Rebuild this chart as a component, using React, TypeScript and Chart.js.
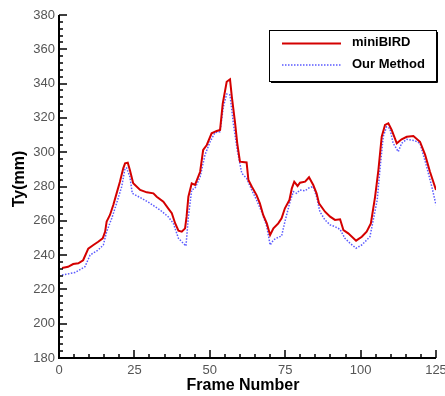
import React, { useEffect, useRef } from "react";
import { Chart, registerables } from "chart.js";

Chart.register(...registerables);

// ---- data ----
const seriesLabels = ["miniBIRD", "Our Method"];

const redFrames = [1, 3, 4.7, 6.4, 8, 9.7, 11.4, 13, 14.5, 15.3, 15.8, 16.9, 18, 19.1, 20.2, 21.3, 21.9, 22.8, 23.5, 24.6, 26.9, 29.1, 31.3, 32.4, 34.6, 36.2, 37.4, 38.5, 39.6, 40.7, 41.8, 42.3, 42.9, 44, 45.1, 46.8, 47.8, 49, 50.6, 52.3, 53.4, 54.3, 55.6, 56.7, 57.3, 58.4, 59.1, 60, 62.2, 62.8, 63.9, 65.5, 66.6, 67.7, 68.9, 70, 71.1, 72.7, 73.8, 74.9, 76.4, 77.2, 78, 79.1, 79.9, 81.6, 82.9, 84.3, 85.4, 86.2, 88.2, 89.9, 91.5, 93.2, 94.3, 95.9, 98.5, 100.4, 102, 103.4, 104.8, 105.9, 107, 108.1, 109.2, 110.3, 112, 113.6, 115.3, 117.5, 119.7, 121.4, 123, 125];
const redValues = [232.5, 233.2, 234.8, 235.2, 237, 243.8, 245.9, 247.8, 249.8, 253.7, 259.5, 263.4, 269.2, 276, 282.8, 290.6, 293.5, 293.9, 289.6, 281.9, 278, 276.6, 276, 274, 271.1, 267.3, 264.4, 258.6, 254.2, 253.7, 255.6, 262.4, 274, 281.8, 280.9, 288.6, 301.3, 304.2, 311, 312.4, 313, 328.5, 341.1, 342.5, 332.4, 316.8, 305.2, 294.5, 294, 283.8, 280, 275, 270.2, 263.4, 258.5, 251.7, 255.6, 258.5, 261.5, 267.3, 272.1, 278.9, 282.8, 280.3, 282.2, 282.8, 285.4, 280.9, 276, 270.2, 265.3, 262.4, 260.5, 260.9, 254.6, 252.7, 248.4, 250.7, 253.7, 258.5, 274, 289.6, 309, 315.9, 316.8, 313, 305.2, 307.5, 309, 309.4, 306.1, 298.4, 288.6, 278];

const blueFrames = [1, 5.3, 8.6, 10.3, 13, 14.7, 15.8, 17.5, 19.1, 20.8, 21.9, 22.4, 23.5, 24.3, 27.4, 30.2, 33.5, 36.2, 37.9, 39.6, 41.2, 42.1, 42.9, 44, 45.1, 46.8, 48.4, 50.1, 51.7, 53.4, 54.5, 55.6, 56.7, 57.8, 59.1, 60.6, 62.2, 63.9, 65.5, 67.2, 68.9, 70, 71.1, 72.7, 73.8, 74.9, 76.6, 77.7, 78.8, 79.9, 81.6, 82.7, 84.3, 85.4, 86.5, 88.2, 89.9, 91.5, 93.2, 94.8, 96.5, 98.5, 100.4, 103.1, 104.2, 105.5, 106.4, 107.5, 108.6, 109.7, 110.8, 112.5, 113.6, 115.3, 118, 119.7, 121.9, 123.6, 125];
const blueValues = [228.4, 229.8, 233.2, 240, 243, 245.9, 253.7, 261.5, 270.2, 280, 290.6, 290.8, 285.7, 276, 273.1, 270.2, 266.3, 262.4, 258.6, 249.8, 246.9, 245.3, 262.4, 278, 279, 285.7, 298.4, 306.1, 311.4, 312, 326.5, 333.9, 333.4, 316.8, 301.3, 287.7, 284.8, 278, 272.1, 265.3, 256.6, 245.9, 248.8, 250.4, 251.1, 259.5, 271.1, 277, 276, 278, 277.5, 279, 280, 274, 265.3, 260.5, 257.6, 256.6, 255, 249.8, 246.9, 244, 245.9, 250.7, 260.5, 272.1, 289.6, 309, 314.8, 313.9, 305.2, 300.3, 305.2, 307.5, 306.7, 305.2, 291.6, 280, 269.2];

const xMin = 0, xMax = 125, xMajor = 25, xMinor = 5;
const yMin = 180, yMax = 380, yMajor = 20, yMinor = 4;
const xTitle = "Frame Number";
const yTitle = "Ty(mm)";

const FONT = "'Liberation Sans', Arial, sans-serif";

const decorPlugin = {
  id: "decor",
  afterDraw(chart: any) {
    const { ctx, chartArea, scales } = chart;
    const x = scales.x, y = scales.y;
    const L = chartArea.left, B = chartArea.bottom, T = chartArea.top, R = chartArea.right;
    ctx.save();
    ctx.strokeStyle = "#000";
    // ticks (inward)
    ctx.lineWidth = 1.5;
    ctx.beginPath();
    for (let v = xMin; v <= xMax + 1e-9; v += xMinor) {
      const px = Math.round(x.getPixelForValue(v));
      const len = v % xMajor === 0 ? 8 : 4;
      ctx.moveTo(px, B);
      ctx.lineTo(px, B - len);
    }
    for (let v = yMin; v <= yMax + 1e-9; v += yMinor) {
      const py = Math.round(y.getPixelForValue(v));
      const len = (v - yMin) % yMajor === 0 ? 8 : 4;
      ctx.moveTo(L, py);
      ctx.lineTo(L + len, py);
    }
    ctx.stroke();
    // axis lines
    ctx.lineWidth = 2;
    ctx.beginPath();
    ctx.moveTo(L, T);
    ctx.lineTo(L, B);
    ctx.lineTo(R, B);
    ctx.stroke();

    // axis titles
    ctx.fillStyle = "#000";
    ctx.font = `bold 16px ${FONT}`;
    ctx.textAlign = "center";
    ctx.textBaseline = "middle";
    ctx.fillText(xTitle, 243, 386);
    ctx.save();
    ctx.translate(20, 179);
    ctx.rotate(-Math.PI / 2);
    ctx.fillText(yTitle, 0, 0);
    ctx.restore();

    // legend box
    const bx = 269, by = 30, bw = 167, bh = 51;
    ctx.fillStyle = "#fff";
    ctx.fillRect(bx, by, bw, bh);
    ctx.lineWidth = 1;
    ctx.strokeStyle = "#000";
    ctx.strokeRect(bx + 0.5, by + 0.5, bw, bh);
    ctx.beginPath();
    ctx.moveTo(bx + bw + 1.5, by + 2);
    ctx.lineTo(bx + bw + 1.5, by + bh + 1.5);
    ctx.lineTo(bx + 2, by + bh + 1.5);
    ctx.stroke();

    const rows = [43.5, 65];
    chart.data.datasets.forEach((ds: any, i: number) => {
      const ly = rows[i];
      ctx.save();
      ctx.strokeStyle = ds.borderColor;
      ctx.lineWidth = ds.borderWidth;
      ctx.setLineDash(ds.borderDash || []);
      ctx.beginPath();
      ctx.moveTo(282, ly);
      ctx.lineTo(341, ly);
      ctx.stroke();
      ctx.restore();
      ctx.fillStyle = "#000";
      ctx.font = `bold 13px ${FONT}`;
      ctx.textAlign = "left";
      ctx.textBaseline = "middle";
      ctx.fillText(ds.label, 352, ly - 1);
    });
    ctx.restore();
  },
};

export default function App() {
  const ref = useRef<HTMLCanvasElement | null>(null);

  useEffect(() => {
    if (!ref.current) return;
    const red = redFrames.map((f, i) => ({ x: f, y: redValues[i] }));
    const blue = blueFrames.map((f, i) => ({ x: f, y: blueValues[i] }));
    const chart = new Chart(ref.current, {
      type: "line",
      data: {
        datasets: [
          {
            label: seriesLabels[0],
            data: red,
            borderColor: "#d40000",
            borderWidth: 2,
            pointRadius: 0,
            tension: 0,
            fill: false,
          },
          {
            label: seriesLabels[1],
            data: blue,
            borderColor: "#5a5aff",
            borderWidth: 1.5,
            borderDash: [1.5, 1.5],
            pointRadius: 0,
            tension: 0,
            fill: false,
          },
        ],
      },
      options: {
        responsive: false,
        animation: false,
        devicePixelRatio: 1,
        layout: { padding: { top: 15, right: 9, left: 0, bottom: 0 } },
        plugins: { legend: { display: false }, tooltip: { enabled: false } },
        scales: {
          x: {
            type: "linear",
            min: xMin,
            max: xMax,
            grid: { display: false, drawTicks: false },
            border: { display: false },
            ticks: {
              stepSize: xMajor,
              maxRotation: 0,
              padding: 5,
              color: "#555",
              font: { family: FONT, size: 13 },
            },
            afterFit(scale: any) {
              scale.height = 38;
              scale.paddingLeft = 0;
              scale.paddingRight = 0;
            },
          },
          y: {
            min: yMin,
            max: yMax,
            grid: { display: false, drawTicks: false },
            border: { display: false },
            ticks: {
              stepSize: yMajor,
              padding: 4,
              color: "#555",
              font: { family: FONT, size: 13 },
            },
            afterFit(scale: any) {
              scale.width = 59;
              scale.paddingTop = 0;
              scale.paddingBottom = 0;
            },
          },
        },
      },
      plugins: [decorPlugin],
    });
    return () => chart.destroy();
  }, []);

  return (
    <div style={{ position: "fixed", left: 0, top: 0, width: 445, height: 396, background: "#fff" }}>
      <canvas ref={ref} width={445} height={396} style={{ display: "block" }} />
    </div>
  );
}
